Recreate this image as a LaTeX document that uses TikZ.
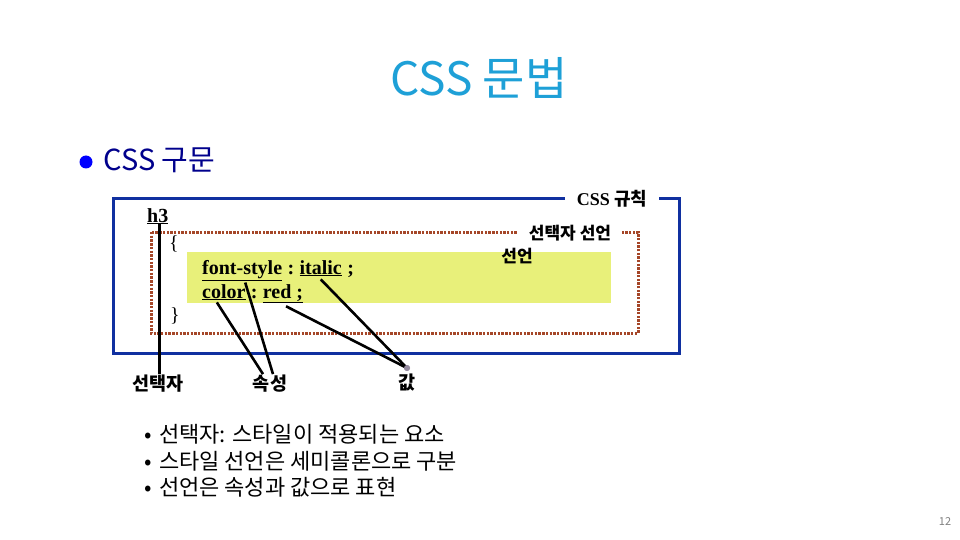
\documentclass[tikz,border=0pt]{standalone}
\usepackage{fontspec}
\setmainfont{Liberation Serif}
\newfontfamily\kor{Noto Sans CJK KR}
\usetikzlibrary{calc,positioning}
\definecolor{titleblue}{RGB}{30,160,215}
\definecolor{navy}{RGB}{0,0,140}
\definecolor{ruleblue}{RGB}{16,48,160}
\definecolor{declbrown}{RGB}{165,70,40}
\definecolor{declyellow}{RGB}{232,240,122}
\definecolor{dotgray}{RGB}{150,140,160}
\tikzstyle{word}=[inner sep=0pt, anchor=base west,
  font=\fontsize{20}{22}\selectfont\bfseries]
\tikzstyle{caption}=[inner sep=1pt, font=\kor\fontsize{17}{19}\selectfont\bfseries]
\tikzstyle{gaplabel}=[caption, fill=white, inner xsep=11pt]
\tikzstyle{partlabel}=[caption, font=\kor\fontsize{18.5}{20}\selectfont\bfseries]
\tikzstyle{rulebox}=[draw=ruleblue, line width=3pt]
\tikzstyle{declbox}=[draw=declbrown, line width=3pt, dash pattern=on 2.4pt off 1.3pt]
\tikzstyle{pointer}=[draw, line width=2.6pt, black]
\newcommand{\uword}[2]{node[word] (#1) {\underline{#2}}}
\newcommand{\sword}[2]{node[word] (#1) {#2\null}}

\begin{document}
\begin{tikzpicture}[x=1pt,y=-1pt]
  \useasboundingbox (0,0) rectangle (960,540);

  % Heading
  \node[font=\kor\fontsize{46}{52}\selectfont, text=titleblue] (title) at (479,78) {CSS 문법};
  \node[circle, fill=blue, minimum size=13pt, inner sep=0pt] (bul) at (86,162) {};
  \node[anchor=west, font=\kor\fontsize{29}{32}\selectfont, text=navy] (sub) at (100,160) {CSS 구문};

  % Frames
  \draw[rulebox] (113,198) rectangle (679,353);
  \node[gaplabel, inner xsep=12pt, font=\kor\fontsize{18}{20}\selectfont\bfseries] (rule) at (612,199) {{\rmfamily\bfseries CSS} 규칙};
  \draw[declbox] (151,232) rectangle (638,333);
  \node[gaplabel] (decl) at (570,233) {선택자 선언};
  \fill[declyellow] (187,252) rectangle (611,303);
  \node[caption] (body) at (517,256) {선언};

  % Rule text
  \path (147,222) \uword{h3}{h3};
  \node[font=\fontsize{20}{22}\selectfont] (open) at (174,244) {\{};
  \node[font=\fontsize{20}{22}\selectfont] (close) at (175,316) {\}};
  \path (202,274) \uword{fs}{font-style};
  \path (fs.base east) \sword{c1}{\ :\ };
  \path (c1.base east) \uword{it}{italic};
  \path (it.base east) \sword{s1}{\ ;};
  \path (202,298) \uword{col}{color};
  \path (col.base east) \sword{c2}{\ :\ };
  \path (c2.base east) \uword{rd}{red ;};

  % Labels
  \node[partlabel] (sel) at (158,384) {선택자};
  \node[partlabel] (prop) at (270,384) {속성};
  \node[circle, fill=dotgray, minimum size=6pt, inner sep=0pt] (vd) at (407,368) {};
  \node[partlabel, below=1pt of vd] (val) {값};

  % Draw pointers
  \path[pointer] ([xshift=2pt]h3.south) -- ([xshift=2pt]h3.south |- sel.north);
  \path[pointer] ([xshift=-7pt,yshift=-2pt]col.south) -- ([xshift=-7pt]prop.north);
  \path[pointer] ([xshift=3pt,yshift=-2pt]fs.south) -- ([xshift=3pt]prop.north);
  \path[pointer] ([xshift=3pt,yshift=-3pt]rd.south) -- (vd.center);
  \path[pointer] ([yshift=-3pt]it.south) -- (vd.center);
  \node[circle, fill=dotgray, minimum size=6pt, inner sep=0pt] at (vd) {};

  % Notes
  \node[anchor=west, align=left, font=\kor\fontsize{22}{26.5}\selectfont] (notes) at (141,461)
    {•\hspace{7pt}선택자: 스타일이 적용되는 요소\\•\hspace{7pt}스타일 선언은 세미콜론으로 구분\\•\hspace{7pt}선언은 속성과 값으로 표현};
  \node[font=\kor\fontsize{11}{12}\selectfont, text=gray] (page) at (945,522) {12};
\end{tikzpicture}
\end{document}
